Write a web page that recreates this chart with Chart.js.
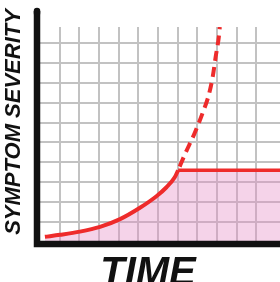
<!DOCTYPE html>
<html>
<head>
<meta charset="utf-8">
<script src="https://cdn.jsdelivr.net/npm/chart.js@4/dist/chart.umd.min.js"></script>
<style>
  html, body { margin: 0; padding: 0; background: #fff; }
  #wrap { width: 280px; height: 282px; }
</style>
</head>
<body>
<div id="wrap"><canvas id="myChart"></canvas></div>
<script>
// values (x = time units, y = severity units)
const growthTime = [0.25, 1.02, 2.03, 3.05, 4.07, 5.08, 5.92, 6.43, 6.85, 7.02];
const growthSeverity = [0.26, 0.36, 0.52, 0.76, 1.15, 1.72, 2.3, 2.75, 3.25, 3.6];
const plateauTime = [7.02, 12.2];
const plateauSeverity = [3.6, 3.6];
const runawayTime = [7.02, 7.36, 7.87, 8.27, 8.58, 8.78, 8.93, 9.09, 9.14];
const runawaySeverity = [3.6, 4.39, 5.49, 6.49, 7.39, 8.3, 9.3, 10.3, 10.8];
const xTitle = 'TIME';
const yTitle = 'SYMPTOM SEVERITY';

const toPoints = (xs, ys) => xs.map((x, i) => ({ x: x, y: ys[i] }));

const red = '#ee2b2b';
const pink = 'rgba(228, 140, 196, 0.38)';
const gridGrey = '#c2c2c2';

// thick black axes + hand-lettered titles
const axesPlugin = {
  id: 'axes',
  afterDatasetsDraw(chart) {
    const { ctx, chartArea: a, width } = chart;
    ctx.save();
    ctx.strokeStyle = '#111';
    ctx.lineWidth = 6.5;
    ctx.lineJoin = 'miter';
    ctx.lineCap = 'butt';
    ctx.beginPath();
    ctx.moveTo(a.left - 3, a.top - 16);
    ctx.lineTo(a.left - 3, a.bottom + 2);
    ctx.lineTo(width, a.bottom + 2);
    ctx.stroke();
    ctx.beginPath();
    ctx.lineCap = 'round';
    ctx.moveTo(a.left - 3, a.top - 16);
    ctx.lineTo(a.left - 3, a.top - 14);
    ctx.stroke();
    ctx.restore();
  },
  afterDraw(chart) {
    const { ctx } = chart;
    ctx.save();
    ctx.fillStyle = '#111';
    ctx.textAlign = 'center';
    ctx.textBaseline = 'alphabetic';
    ctx.font = 'italic bold 40px "Liberation Sans", sans-serif';
    ctx.fillText(xTitle, 148, chart.height + 3);
    ctx.translate(20, 122);
    ctx.rotate(-Math.PI / 2);
    ctx.font = 'italic bold 22px "Liberation Sans", sans-serif';
    ctx.fillText(yTitle, 0, 0);
    ctx.restore();
  }
};

var ctx = document.getElementById('myChart').getContext('2d');
var chart = new Chart(ctx, {
  type: 'line',
  data: {
    datasets: [{
      label: 'growth',
      data: toPoints(growthTime, growthSeverity),
      borderColor: red,
      backgroundColor: pink,
      borderWidth: 4,
      fill: 'origin',
      cubicInterpolationMode: 'monotone',
      pointRadius: 0
    }, {
      label: 'plateau',
      data: toPoints(plateauTime, plateauSeverity),
      borderColor: red,
      backgroundColor: pink,
      borderWidth: 3.5,
      fill: 'origin',
      pointRadius: 0
    }, {
      label: 'runaway',
      data: toPoints(runawayTime, runawaySeverity),
      borderColor: red,
      borderWidth: 4,
      borderDash: [10, 6],
      borderDashOffset: -4,
      fill: false,
      cubicInterpolationMode: 'monotone',
      pointRadius: 0
    }]
  },
  options: {
    responsive: true,
    maintainAspectRatio: false,
    animation: false,
    layout: { padding: { left: 40, top: 27, bottom: 40, right: 0 } },
    plugins: {
      legend: { display: false },
      tooltip: { enabled: false }
    },
    scales: {
      x: {
        type: 'linear',
        min: 0,
        max: 12.2,
        ticks: { display: false, stepSize: 1 },
        border: { display: false },
        grid: {
          drawTicks: false,
          lineWidth: 2,
          color: (c) => (c.tick && c.tick.value > 0 && c.tick.value <= 11 && c.tick.value % 1 === 0) ? gridGrey : 'transparent'
        }
      },
      y: {
        min: 0,
        max: 10.8,
        ticks: { display: false, stepSize: 1 },
        border: { display: false },
        grid: {
          drawTicks: false,
          lineWidth: 2,
          color: (c) => (c.tick && c.tick.value > 0 && c.tick.value % 1 === 0) ? gridGrey : 'transparent'
        }
      }
    }
  },
  plugins: [axesPlugin]
});
</script>
</body>
</html>
